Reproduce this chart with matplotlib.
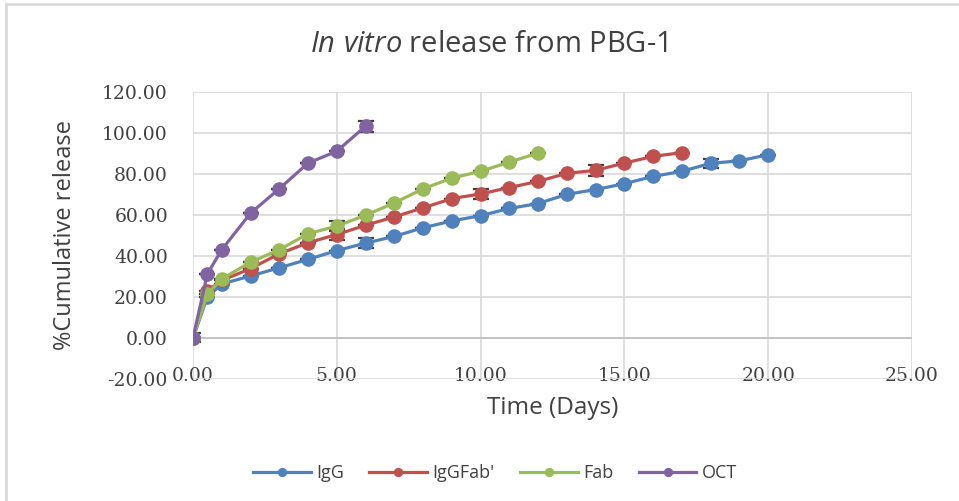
import matplotlib
matplotlib.use('Agg')
import matplotlib.pyplot as plt
from matplotlib.lines import Line2D

# Release data
igg_days = [0, 0.5, 1, 2, 3, 4, 5, 6, 7, 8, 9, 10, 11, 12, 13, 14, 15, 16, 17, 18, 19, 20]
igg_vals = [0, 20.0, 26.3, 30.2, 34.2, 38.3, 42.6, 46.2, 49.5, 53.7, 57.0, 59.6, 63.1, 65.5, 70.0, 72.3, 75.2, 78.7, 81.2, 85.1, 86.3, 89.3]
igg_err = [0, 0, 0, 0, 0, 0, 0, 2.3, 0, 0, 0, 0, 0, 0, 0, 0, 0, 0, 0, 2.2, 0, 0]

fab2_days = [0, 0.5, 1, 2, 3, 4, 5, 6, 7, 8, 9, 10, 11, 12, 13, 14, 15, 16, 17]
fab2_vals = [0, 23.0, 28.0, 33.8, 41.0, 46.4, 50.4, 54.9, 59.0, 63.4, 67.9, 70.2, 73.3, 76.3, 80.2, 81.7, 85.2, 88.5, 90.3]
fab2_err = [0, 0, 0, 0, 0, 0, 2.6, 0, 0, 0, 0, 2.6, 0, 0, 0, 2.6, 0, 0, 0]

fab_days = [0, 0.5, 1, 2, 3, 4, 5, 6, 7, 8, 9, 10, 11, 12]
fab_vals = [0, 21.5, 28.8, 36.9, 43.0, 50.8, 54.5, 59.8, 65.8, 72.7, 77.9, 81.2, 85.7, 90.1]
fab_err = [0, 0, 0, 0, 0, 0, 2.4, 0, 0, 0, 0, 0, 0, 0]

oct_days = [0, 0.5, 1, 2, 3, 4, 5, 6]
oct_vals = [0, 31.2, 43.0, 60.8, 72.7, 85.2, 91.0, 103.2]
oct_err = [2.2, 0, 0, 0, 0, 0, 0, 2.7]

series = [('IgG', igg_days, igg_vals, igg_err, '#4F81BD'),
          ("IgGFab'", fab2_days, fab2_vals, fab2_err, '#C0504D'),
          ('Fab', fab_days, fab_vals, fab_err, '#9BBB59'),
          ('OCT', oct_days, oct_vals, oct_err, '#8064A2')]

x_ticks = [0, 5, 10, 15, 20, 25]
y_ticks = [-20, 0, 20, 40, 60, 80, 100, 120]

plt.rcParams['mathtext.fontset'] = 'custom'
plt.rcParams['mathtext.rm'] = 'Open Sans'
plt.rcParams['mathtext.it'] = 'Open Sans:italic'

txt = '#404040'
grid = '#D9D9D9'

fig = plt.figure(figsize=(9.59, 5.01), dpi=100, facecolor='white')
ax = fig.add_axes([193 / 959, 1 - 379 / 501, 719 / 959, 287.3 / 501])

# Chart area border
fig.add_artist(Line2D([6 / 959, 6 / 959], [0, 1 - 4 / 501], transform=fig.transFigure,
                      color=grid, lw=2))
fig.add_artist(Line2D([6 / 959, 1], [1 - 4 / 501, 1 - 4 / 501], transform=fig.transFigure,
                      color=grid, lw=2))

for name, xs, ys, err, col in series:
    ax.errorbar(xs, ys, yerr=err, fmt='none', ecolor='#3F3F3F', elinewidth=1.2,
                capsize=6, capthick=1.6, zorder=3)
    ax.plot(xs, ys, color=col, lw=2.3, marker='o', ms=9.5, mec=col, mfc=col,
            label=name, zorder=4)

ax.set_xlim(0, 25)
ax.set_ylim(-20, 120)
ax.set_xticks(x_ticks)
ax.set_xticklabels(['%.2f' % v for v in x_ticks])
ax.set_yticks(y_ticks)
ax.set_yticklabels(['%.2f' % v for v in y_ticks])
ax.grid(True, color=grid, lw=1.2)
ax.axhline(0, color='#BFBFBF', lw=1.2, zorder=1)
ax.set_axisbelow(True)
for s in ax.spines.values():
    s.set_visible(False)

ax.tick_params(length=0, labelcolor=txt, labelsize=13.5)
ax.tick_params(axis='y', pad=18)
ax.tick_params(axis='x', pad=4)
for lbl in ax.get_xticklabels() + ax.get_yticklabels():
    lbl.set_family('DejaVu Serif')
for lbl in ax.get_xticklabels():
    lbl.set_va('bottom')

ax.set_xlabel('Time (Days)', fontsize=17.5, color=txt, family='Open Sans')
ax.xaxis.set_label_coords(0.5, -0.101)
ax.xaxis.label.set_va('center')
ax.set_ylabel('%Cumulative release', fontsize=17, color=txt, family='Open Sans')
ax.yaxis.set_label_coords(-0.178, 0.50)
ax.yaxis.label.set_va('center')

fig.text(489 / 959, 1 - 44 / 501, r'$\mathit{In\ vitro}$ release from PBG-1',
         ha='center', va='center', fontsize=21, color=txt, family='Open Sans')

fig.legend(loc='center', bbox_to_anchor=(495 / 959, 1 - 473 / 501), ncol=4,
           frameon=False, markerscale=0.6, handlelength=3.2, columnspacing=1.4,
           handletextpad=0.3, prop={'family': 'Open Sans', 'size': 13})
for t in fig.legends[0].get_texts():
    t.set_color(txt)

fig.savefig('out.png', dpi=100)
